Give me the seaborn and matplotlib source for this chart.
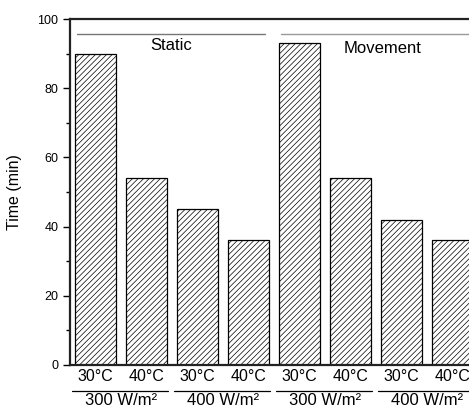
import matplotlib
matplotlib.use("Agg")
import matplotlib.pyplot as plt
import matplotlib.transforms as mtransforms
import pandas as pd
import seaborn as sns

# data
conditions = ["S-300-30", "S-300-40", "S-400-30", "S-400-40",
              "M-300-30", "M-300-40", "M-400-30", "M-400-40"]
times = [90, 54, 45, 36, 93, 54, 42, 36]
temp_labels = ["30°C", "40°C"] * 4
power_labels = ["300 W/m²", "400 W/m²", "300 W/m²", "400 W/m²"]
mode_labels = ["Static", "Movement"]

df = pd.DataFrame({"cond": conditions, "time": times})

sns.set_style("ticks")
plt.rcParams["font.family"] = ["Liberation Sans", "DejaVu Sans"]
plt.rcParams["hatch.linewidth"] = 0.5
plt.rcParams["text.color"] = "black"
plt.rcParams["axes.labelcolor"] = "black"
plt.rcParams["xtick.color"] = "black"
plt.rcParams["ytick.color"] = "black"

fig = plt.figure(figsize=(4.69, 4.08), dpi=100)
ax = fig.add_axes([0.1493, 0.1054, 0.870, 0.848])

sns.barplot(data=df, x="cond", y="time", ax=ax, color="white",
            edgecolor="black", linewidth=0.9, width=0.8, saturation=1)
for p in ax.patches:
    p.set_hatch("//////")

ax.set_xlim(-0.5, 7.5)
ax.set_ylim(0, 100)
ax.set_yticks(range(0, 101, 20))
ax.set_yticks(range(10, 100, 20), minor=True)
ax.tick_params(axis="y", which="major", length=5, width=1, labelsize=9, direction="out")
ax.tick_params(axis="y", which="minor", length=3, width=1, direction="out")
ax.set_xticks(range(len(conditions)))
ax.set_xticklabels(temp_labels, fontsize=11.5)
ax.tick_params(axis="x", length=0, pad=3)
ax.set_xlabel("")
ax.set_ylabel("Time (min)", fontsize=11.5, labelpad=11)
for s in ["left", "bottom", "top"]:
    ax.spines[s].set_linewidth(1.6)
    ax.spines[s].set_color("#222222")
ax.spines["right"].set_visible(False)

# group lines and labels at the top
ax.plot([-0.36, 3.32], [95.7, 95.7], color="#777777", lw=1)
ax.plot([3.64, 7.6], [95.7, 95.7], color="#999999", lw=1, clip_on=False)
ax.text(1.48, 92.2, mode_labels[0], fontsize=12, ha="center", va="center")
ax.text(5.62, 91.6, mode_labels[1], fontsize=12, ha="center", va="center")

# power lines and labels under the axis
trans = mtransforms.blended_transform_factory(ax.transData, ax.transAxes)
for i, lab in enumerate(power_labels):
    c = 2 * i + 0.5
    ax.plot([c - 0.96, c + 0.92], [-0.075, -0.075], color="black", lw=0.9,
            transform=trans, clip_on=False)
    ax.text(c, -0.104, lab, fontsize=12, ha="center", va="center",
            transform=trans)

fig.savefig("out.png", dpi=100)
